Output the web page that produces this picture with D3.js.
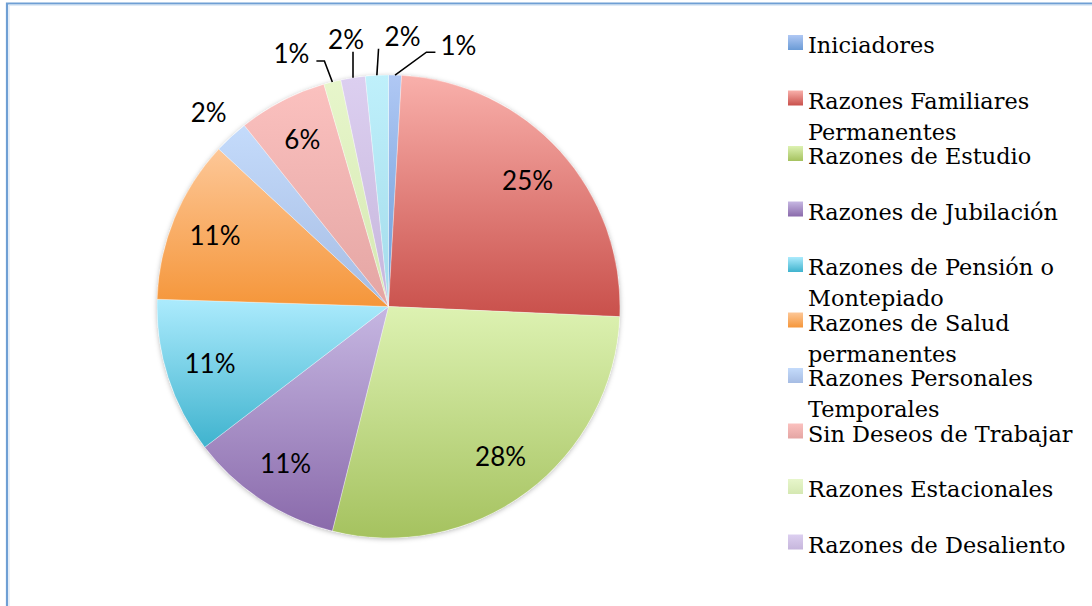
<!DOCTYPE html>
<html>
<head>
<meta charset="utf-8">
<script src="https://cdn.jsdelivr.net/npm/d3@7"></script>
<style>
    body { margin: 0; background: #fff; }
    svg { display: block; }
</style>
</head>
<body>
<svg id="canvas"></svg>
<script>
// ########## Data ##########
var categories = [
    "Iniciadores",
    "Razones Familiares Permanentes",
    "Razones de Estudio",
    "Razones de Jubilación",
    "Razones de Pensión o Montepiado",
    "Razones de Salud permanentes",
    "Razones Personales Temporales",
    "Sin Deseos de Trabajar",
    "Razones Estacionales",
    "Razones de Desaliento",
    "Otras Razones"
];
var values = [0.9, 24.8, 28.2, 10.7, 10.9, 11.4, 2.4, 6.2, 1.2, 1.7, 1.6];
var legendCount = 10; // the last entry falls outside the chart area

// gradient colours, top -> bottom
var topColors = ["#b0c8f4", "#f9b0ab", "#ddf2b2", "#c6b7e2", "#acebfd", "#fdc797",
                 "#c4dbfb", "#fbc1bf", "#e7f6cb", "#dccff0", "#bff0fb"];
var bottomColors = ["#6a9bd6", "#c9504b", "#a5c25f", "#8a6aab", "#3fb3ce", "#f5963a",
                    "#a6bce3", "#e4a5a3", "#d5e8b2", "#c6b6dc", "#a3dbea"];

var w = 1092
var h = 606
var cx = 388.5, cy = 306.5, r = 231.5;

var svg = d3.select("#canvas")
    .attr("width", w)
    .attr("height", h);

// ########## Frame ##########
svg.append("path")
    .attr("d", "M7," + h + "V3.5H" + w)
    .attr("fill", "none")
    .attr("stroke", "#6f9fd4")
    .attr("stroke-width", 2.2);
svg.append("path")
    .attr("d", "M9," + h + "V5.2H" + w)
    .attr("fill", "none")
    .attr("stroke", "#d3e2f3")
    .attr("stroke-width", 1);

var data = categories.map(function (c, i) {
    return { name: c, value: values[i], i: i };
});
var total = d3.sum(values);
var pct = function (v) { return Math.round(v * 100) + "%"; };

// ########## Gradients & shadow ##########
var defs = svg.append("defs");
data.forEach(function (d) {
    var g = defs.append("linearGradient")
        .attr("id", "grad" + d.i)
        .attr("x1", 0).attr("y1", 0).attr("x2", 0).attr("y2", 1);
    g.append("stop").attr("offset", "0%").attr("stop-color", topColors[d.i]);
    g.append("stop").attr("offset", "100%").attr("stop-color", bottomColors[d.i]);
});
var shadow = defs.append("filter").attr("id", "shadow")
    .attr("x", "-10%").attr("y", "-10%").attr("width", "120%").attr("height", "120%");
shadow.append("feDropShadow")
    .attr("dx", 0).attr("dy", 1).attr("stdDeviation", 2.5)
    .attr("flood-color", "#000").attr("flood-opacity", 0.28);

// ########## Pie ##########
var pie = d3.pie().sort(null).value(function (d) { return d.value; });
var arcs = pie(data);
var arc = d3.arc().innerRadius(0).outerRadius(r);

var pieG = svg.append("g")
    .attr("transform", "translate(" + cx + "," + cy + ")");

pieG.append("circle")
    .attr("r", r)
    .attr("fill", "#fff")
    .attr("filter", "url(#shadow)");

pieG.selectAll(".slice")
    .data(arcs).enter()
    .append("path")
    .attr("class", "slice")
    .attr("d", arc)
    .attr("fill", function (d) { return "url(#grad" + d.data.i + ")"; })
    .attr("stroke", "rgba(255,255,255,0.45)")
    .attr("stroke-width", 0.7);

// ########## Labels ##########
var fontLabel = "Lato, 'Open Sans', sans-serif";
var inside = arcs.filter(function (d) { return d.data.value >= 5; });
var outside = arcs.filter(function (d) { return d.data.value < 5; });

pieG.selectAll(".inlabel")
    .data(inside).enter()
    .append("text")
    .attr("class", "inlabel")
    .attr("transform", function (d) {
        var c = d3.arc().innerRadius(0).outerRadius(r * 1.62).centroid(d);
        return "translate(" + c + ")";
    })
    .attr("text-anchor", "middle")
    .attr("dy", "0.36em")
    .style("font-family", fontLabel)
    .style("font-size", "26px")
    .attr("fill", "#000")
    .text(function (d) { return pct(d.data.value / total); });

// spread outside labels so they do not overlap
var minSep = 12 * Math.PI / 180;
outside.forEach(function (d) {
    var m = (d.startAngle + d.endAngle) / 2;
    d.mid = m > Math.PI ? m - 2 * Math.PI : m;
    d.ang = d.mid;
});
outside.sort(function (a, b) { return a.mid - b.mid; });
for (var k = 0; k < 200; k++) {
    for (var j = 1; j < outside.length; j++) {
        var diff = outside[j].ang - outside[j - 1].ang;
        if (diff < minSep) {
            var push = (minSep - diff) / 2;
            outside[j].ang += push;
            outside[j - 1].ang -= push;
        }
    }
}
outside.forEach(function (d, j) {
    var prev = outside[j - 1], next = outside[j + 1];
    d.crowded = (prev && d.ang - prev.ang < minSep + 0.01) || (next && next.ang - d.ang < minSep + 0.01);
    if (d.crowded) d.ang += 3 * Math.PI / 180; // labels drift clockwise
    d.rad = d.crowded ? r + 39 : r + 33;
    d.lx = Math.sin(d.ang) * d.rad;
    d.ly = -Math.cos(d.ang) * d.rad;
});

var outLabel = pieG.selectAll(".outlabel")
    .data(outside).enter()
    .append("text")
    .attr("class", "outlabel")
    .attr("x", function (d) { return d.lx; })
    .attr("y", function (d) { return d.ly; })
    .attr("text-anchor", "middle")
    .attr("dy", "0.36em")
    .style("font-family", fontLabel)
    .style("font-size", "26px")
    .attr("fill", "#000")
    .text(function (d) { return pct(d.data.value / total); });

// ########## Leader lines ##########
outLabel.each(function (d) {
    if (!d.crowded) return;
    var b = this.getBBox();
    var px = Math.sin(d.mid) * r, py = -Math.cos(d.mid) * r;
    var left = b.x, right = b.x + b.width, bottom = b.y + b.height;
    var pts;
    if (px < left - 20) {
        var yy = d.ly + 7;
        pts = [[px, py], [left - 14, yy], [left - 5, yy]];
    } else if (px > right + 20) {
        var yy2 = d.ly + 7;
        pts = [[px, py], [right + 15, yy2], [right + 7, yy2]];
    } else {
        pts = [[px, py], [Math.max(left - 6, Math.min(right + 6, px)), bottom - 3]];
    }
    pieG.append("path")
        .attr("d", d3.line()(pts))
        .attr("fill", "none")
        .attr("stroke", "#000")
        .attr("stroke-width", 1.6);
});

// ########## Legend ##########
var legend = svg.append("g").attr("class", "legend");
var legendFont = "'DejaVu Serif', serif";
var rowH = 55.5, top0 = 35, maxW = 272;

var entry = legend.selectAll(".entry")
    .data(data.slice(0, legendCount)).enter()
    .append("g")
    .attr("class", "entry")
    .attr("transform", function (d, i) { return "translate(788," + (top0 + i * rowH) + ")"; });

entry.append("rect")
    .attr("width", 15)
    .attr("height", 15)
    .attr("fill", function (d) { return "url(#grad" + d.i + ")"; });

entry.append("text")
    .attr("x", 20)
    .attr("y", 18)
    .style("font-family", legendFont)
    .style("font-size", "22.4px")
    .attr("fill", "#000")
    .each(function (d) {
        var t = d3.select(this);
        var words = d.name.split(" ");
        var line = [];
        var tspan = t.append("tspan").attr("x", 20).attr("dy", 0);
        words.forEach(function (wd) {
            line.push(wd);
            tspan.text(line.join(" "));
            if (tspan.node().getComputedTextLength() > maxW && line.length > 1) {
                line.pop();
                tspan.text(line.join(" "));
                line = [wd];
                tspan = t.append("tspan").attr("x", 20).attr("dy", 31).text(wd);
            }
        });
    });
</script>
</body>
</html>
